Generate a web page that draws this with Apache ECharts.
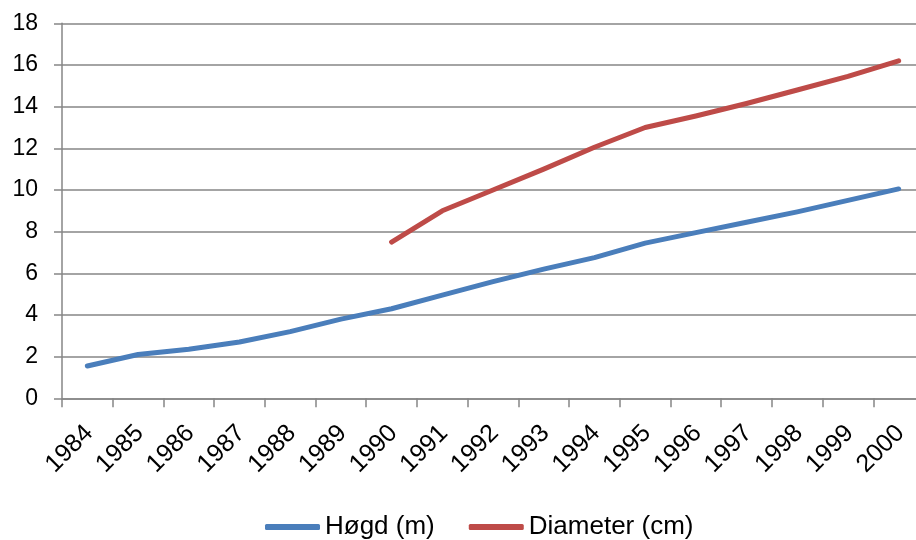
<!DOCTYPE html>
<html>
<head>
<meta charset="utf-8">
<script src="https://cdn.jsdelivr.net/npm/echarts@6/dist/echarts.min.js"></script>
<style>html,body{margin:0;padding:0;background:#fff;overflow:hidden;width:916px;height:540px}#c{width:924px;height:540px}</style>
</head>
<body>
<div id="c"></div>
<script>
const years = ['1984','1985','1986','1987','1988','1989','1990','1991','1992','1993','1994','1995','1996','1997','1998','1999','2000'];
const hogd = [1.55, 2.1, 2.35, 2.7, 3.2, 3.8, 4.3, 4.95, 5.6, 6.2, 6.75, 7.45, 7.95, 8.45, 8.95, 9.5, 10.05];
const diameter = [null, null, null, null, null, null, 7.5, 9.0, 10.0, 11.0, 12.05, 13.0, 13.55, 14.15, 14.8, 15.45, 16.2];
const yTicks = [0, 2, 4, 6, 8, 10, 12, 14, 16, 18];

const font = 'Liberation Sans';
const gridColor = '#868686';
const chart = echarts.init(document.getElementById('c'), null, {renderer: 'canvas'});
chart.setOption({
  animation: false,
  textStyle: {fontFamily: font},
  grid: {left: 62, right: 0, top: 23.3, bottom: 141.7, containLabel: false},
  legend: {
    left: 260, top: 509,
    itemWidth: 55, itemHeight: 6, itemGap: 34,
    icon: 'roundRect',
    textStyle: {fontFamily: font, fontSize: 26, color: '#000'},
    data: ['Høgd (m)', 'Diameter (cm)']
  },
  xAxis: {
    type: 'category',
    data: years,
    boundaryGap: true,
    axisLine: {show: true, lineStyle: {color: gridColor, width: 1.5}},
    axisTick: {show: true, length: 9, alignWithLabel: false, lineStyle: {color: gridColor, width: 1.5}},
    axisLabel: {rotate: 45, interval: 0, margin: 15, verticalAlign: 'top', padding: [0, 10, 0, 0], fontFamily: font, fontSize: 25, color: '#000'},
    splitLine: {show: false}
  },
  yAxis: {
    type: 'value',
    min: yTicks[0], max: yTicks[yTicks.length - 1], interval: 2,
    axisLine: {show: true, lineStyle: {color: gridColor, width: 1.5}},
    axisTick: {show: true, length: 8, lineStyle: {color: gridColor, width: 1.5}},
    axisLabel: {margin: 24, fontFamily: font, fontSize: 23, color: '#000'},
    splitLine: {show: true, lineStyle: {color: gridColor, width: 1.5}}
  },
  series: [
    {name: 'Høgd (m)', type: 'line', data: hogd, symbol: 'none', color: '#4A7EBB',
     lineStyle: {width: 5, color: '#4A7EBB', cap: 'round', join: 'round'}},
    {name: 'Diameter (cm)', type: 'line', data: diameter, symbol: 'none', color: '#BE4B48',
     lineStyle: {width: 5, color: '#BE4B48', cap: 'round', join: 'round'}}
  ]
});
</script>
</body>
</html>
